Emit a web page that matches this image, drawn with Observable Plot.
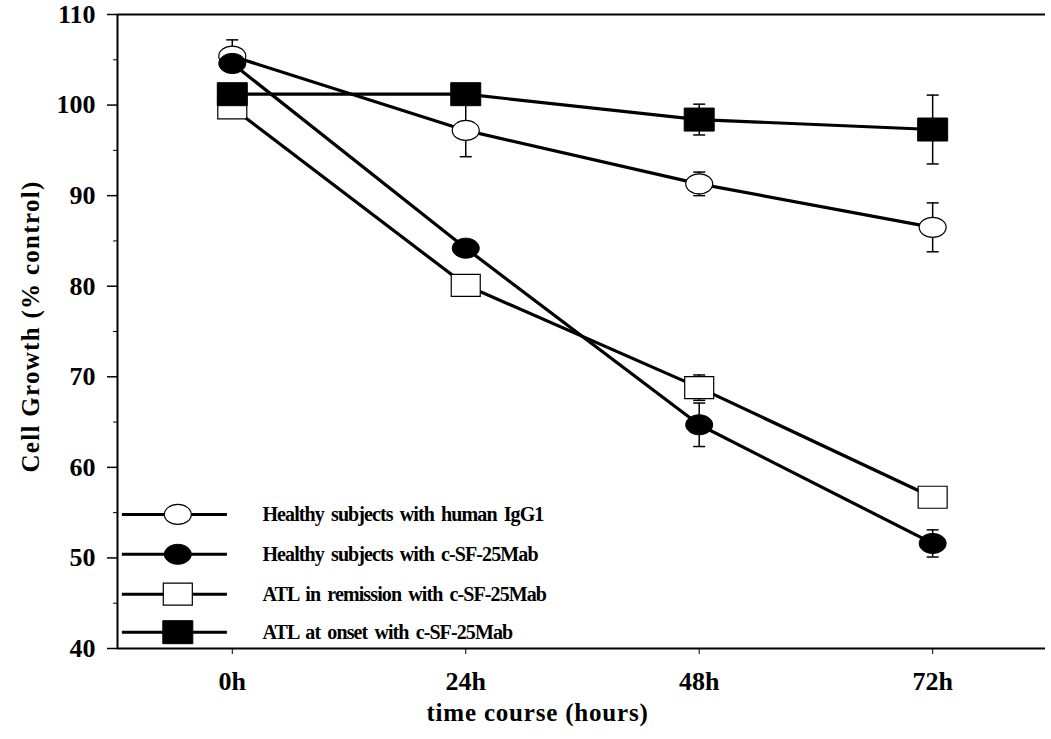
<!DOCTYPE html>
<html>
<head>
<meta charset="utf-8">
<script src="https://cdn.jsdelivr.net/npm/d3@7"></script>
<script src="https://cdn.jsdelivr.net/npm/@observablehq/plot@0.6"></script>
<style>
  html, body { margin: 0; padding: 0; background: #fff; }
</style>
</head>
<body>
<div id="chart"></div>
<script>
// ---- data ----
const times = [0, 24, 48, 72];
const timeLabels = ["0h", "24h", "48h", "72h"];
const seriesNames = [
  "Healthy subjects with human IgG1",
  "Healthy subjects with c-SF-25Mab",
  "ATL in remission with c-SF-25Mab",
  "ATL at onset with c-SF-25Mab"
];
const healthyIgG1 = [105.4, 97.2, 91.3, 86.5];
const healthyIgG1Sd = [1.8, 2.9, 1.3, 2.7];
const healthyMab = [104.6, 84.2, 64.7, 51.6];
const healthyMabSd = [0.8, 0.6, 2.4, 1.5];
const remissionMab = [99.7, 80.1, 68.8, 56.7];
const remissionMabSd = [0.6, 0.6, 1.4, 0.5];
const onsetMab = [101.2, 101.2, 98.4, 97.3];
const onsetMabSd = [0.8, 0.6, 1.7, 3.8];
const yTicks = [40, 50, 60, 70, 80, 90, 100, 110];
const yMinorTicks = [45, 55, 65, 75, 85, 95, 105];

// ---- layout constants ----
const xDomain = [-11.8, 83.6];
const yDomain = [40, 110];
const legendY = [54.8, 50.4, 46.0, 41.8];
const legendLineX = [-11.3, -0.5];
const legendMarkX = -5.6;
const legendTextX = 3.1;

// ---- symbols ----
function ellipse(rx, ry) {
  return {
    draw(ctx) {
      const kx = rx * 0.5523, ky = ry * 0.5523;
      ctx.moveTo(rx, 0);
      ctx.bezierCurveTo(rx, ky, kx, ry, 0, ry);
      ctx.bezierCurveTo(-kx, ry, -rx, ky, -rx, 0);
      ctx.bezierCurveTo(-rx, -ky, -kx, -ry, 0, -ry);
      ctx.bezierCurveTo(kx, -ry, rx, -ky, rx, 0);
      ctx.closePath();
    }
  };
}
function rect(w, h) {
  return {
    draw(ctx) {
      ctx.moveTo(-w, -h); ctx.lineTo(w, -h); ctx.lineTo(w, h); ctx.lineTo(-w, h); ctx.closePath();
    }
  };
}
const cap = { draw(ctx) { ctx.moveTo(-6, 0); ctx.lineTo(6, 0); } };

const seriesDefs = [
  { name: seriesNames[0], values: healthyIgG1, sd: healthyIgG1Sd, symbol: ellipse(13.5, 10), fill: "white", sw: 1.2 },
  { name: seriesNames[1], values: healthyMab, sd: healthyMabSd, symbol: ellipse(13.5, 10), fill: "black", sw: 1 },
  { name: seriesNames[2], values: remissionMab, sd: remissionMabSd, symbol: rect(14.5, 11), fill: "white", sw: 1.2 },
  { name: seriesNames[3], values: onsetMab, sd: onsetMabSd, symbol: rect(15, 11.5), fill: "black", sw: 1 }
];

const rows = seriesDefs.flatMap((s, si) =>
  times.map((t, i) => ({ series: s.name, si, t, v: s.values[i], sd: s.sd[i] }))
);
const legendRows = seriesDefs.map((s, i) => ({ name: s.name, y: legendY[i], si: i }));

const marks = [
  // axis lines
  Plot.ruleX([xDomain[0]], { stroke: "black", strokeWidth: 2 }),
  Plot.ruleY([yDomain[0], yDomain[1]], { stroke: "black", strokeWidth: 2 }),
  Plot.axisY(yTicks, { tickSize: 10, tickPadding: 12, fontSize: 26, fontWeight: "bold", label: null, strokeWidth: 1.5 }),
  Plot.axisY(yMinorTicks, { tickSize: 4, tickFormat: () => "", label: null }),
  Plot.axisX(times, { tickSize: 6, tickPadding: 17, fontSize: 26, fontWeight: "bold", label: null,
    tickFormat: (d) => timeLabels[times.indexOf(d)] }),
  // axis titles
  Plot.text(["Cell Growth (% control)"], { frameAnchor: "left", textAnchor: "middle", dx: -87, dy: -5, rotate: -90, fontSize: 25, fontWeight: "bold", className: "ytitle" }),
  Plot.text(["time course (hours)"], { frameAnchor: "bottom", textAnchor: "middle", dy: 72, dx: -44, fontSize: 25, fontWeight: "bold", className: "xtitle" }),
  // error bars
  Plot.ruleX(rows, { x: "t", y1: (d) => d.v - d.sd, y2: (d) => d.v + d.sd, stroke: "black", strokeWidth: 1.5 }),
  Plot.dot(rows, { x: "t", y: (d) => d.v + d.sd, symbol: cap, stroke: "black", fill: "none", strokeWidth: 1.5 }),
  Plot.dot(rows, { x: "t", y: (d) => d.v - d.sd, symbol: cap, stroke: "black", fill: "none", strokeWidth: 1.5 }),
  // lines
  Plot.line(rows, { x: "t", y: "v", z: "series", stroke: "black", strokeWidth: 3.2 }),
  // legend lines
  Plot.ruleY(legendRows, { y: "y", x1: legendLineX[0], x2: legendLineX[1], stroke: "black", strokeWidth: 3 }),
  Plot.text(legendRows, { x: legendTextX, y: "y", text: "name", textAnchor: "start", fontSize: 20, fontWeight: "bold", className: "legtext" })
];

seriesDefs.forEach((s, si) => {
  marks.push(Plot.dot(rows.filter((d) => d.si === si), {
    x: "t", y: "v", symbol: s.symbol, fill: s.fill, stroke: "black", strokeWidth: s.sw
  }));
  marks.push(Plot.dot(legendRows.filter((d) => d.si === si), {
    x: legendMarkX, y: "y", symbol: s.symbol, fill: s.fill, stroke: "black", strokeWidth: s.sw
  }));
});

const chart = Plot.plot({
  width: 1051,
  height: 739,
  marginLeft: 117,
  marginRight: 6,
  marginTop: 14,
  marginBottom: 91,
  x: { domain: xDomain },
  y: { domain: yDomain },
  style: { fontFamily: "'Liberation Serif', 'Times New Roman', serif", background: "white", color: "black" },
  marks
});

d3.select(chart).selectAll(".legtext text").style("letter-spacing", "-0.9px").style("word-spacing", "3px");
d3.select(chart).selectAll(".ytitle text").style("letter-spacing", "1.3px");
d3.select(chart).selectAll(".xtitle text").style("letter-spacing", "0.8px");
document.getElementById("chart").appendChild(chart);
</script>
</body>
</html>
